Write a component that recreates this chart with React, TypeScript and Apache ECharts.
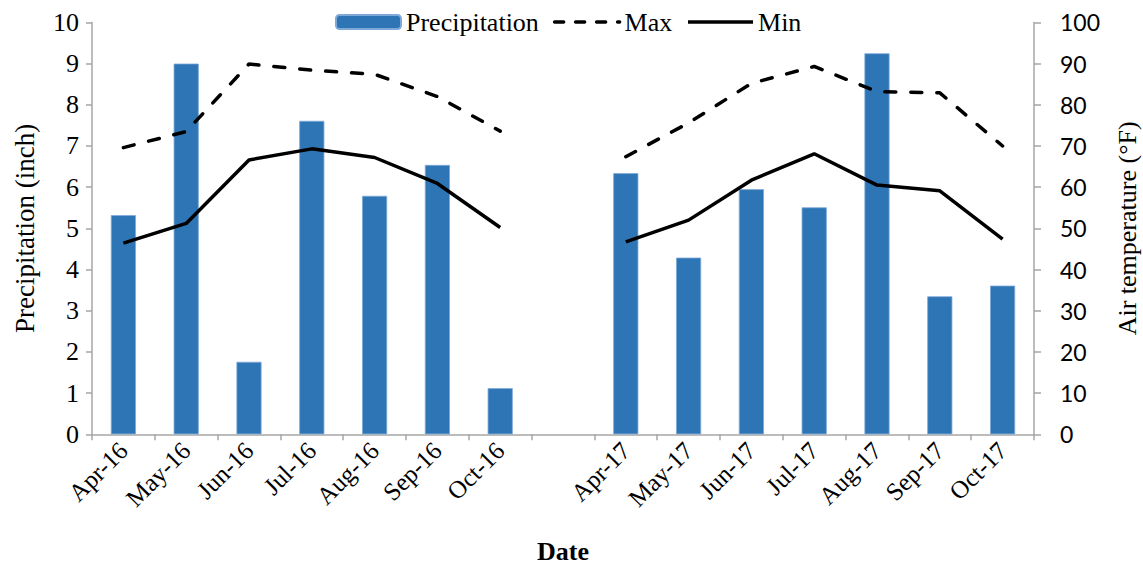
import React, { useEffect, useRef } from "react";
import * as echarts from "echarts";

// Monthly categories; the blank entry separates the two seasons
const categories = [
  "Apr-16", "May-16", "Jun-16", "Jul-16", "Aug-16", "Sep-16", "Oct-16",
  "",
  "Apr-17", "May-17", "Jun-17", "Jul-17", "Aug-17", "Sep-17", "Oct-17",
];

// Precipitation in inches
const precipitation = [
  5.32, 9.0, 1.76, 7.61, 5.79, 6.54, 1.12,
  "-",
  6.34, 4.29, 5.95, 5.51, 9.25, 3.35, 3.61,
];

// Max air temperature (°F)
const maxTemp = [
  69.6, 73.5, 89.9, 88.4, 87.4, 82.0, 73.6,
  "-",
  67.4, 75.6, 85.2, 89.3, 83.2, 82.9, 70.0,
];

// Min air temperature (°F)
const minTemp = [
  46.4, 51.2, 66.6, 69.3, 67.2, 60.9, 50.2,
  "-",
  46.7, 52.0, 61.7, 68.1, 60.5, 59.1, 47.4,
];

const SERIF = "'Liberation Serif', 'Times New Roman', serif";
const SANS = "Lato, 'Open Sans', sans-serif";
const AXIS_GRAY = "#a6a6a6";
const LINE_W = 3.5;

export default function App() {
  const ref = useRef<HTMLDivElement>(null);

  useEffect(() => {
    document.body.style.margin = "0";
    if (!ref.current) return;
    const chart = echarts.init(ref.current, null, { renderer: "svg" });
    chart.setOption({
      animation: false,
      backgroundColor: "#ffffff",
      textStyle: { fontFamily: SERIF, color: "#000" },
      legend: {
        top: 4,
        left: 330,
        itemWidth: 65,
        itemHeight: 14,
        itemGap: 14,
        textStyle: { fontFamily: SERIF, fontSize: 26, color: "#000" },
        data: [
          { name: "Precipitation" },
          {
            name: "Max",
            itemStyle: { opacity: 0 },
            lineStyle: { type: [9, 12], cap: "round", width: LINE_W, color: "#000" },
          },
          {
            name: "Min",
            itemStyle: { opacity: 0 },
            lineStyle: { width: LINE_W, color: "#000" },
          },
        ],
      },
      grid: {
        left: 92,
        right: 109,
        top: 22.4,
        bottom: 135.7,
        containLabel: false,
        outerBoundsMode: "none",
      },
      xAxis: {
        type: "category",
        data: categories,
        boundaryGap: true,
        name: "Date",
        nameLocation: "middle",
        nameGap: 104,
        nameTextStyle: { fontFamily: SERIF, fontSize: 26, fontWeight: "bold", color: "#000" },
        axisLine: { lineStyle: { color: AXIS_GRAY, width: 1.5 } },
        axisTick: { show: true, length: 6, lineStyle: { color: AXIS_GRAY, width: 1.5 } },
        axisLabel: {
          interval: 0,
          rotate: 45,
          margin: 12,
          fontFamily: SERIF,
          fontSize: 25,
          color: "#000",
        },
      },
      yAxis: [
        {
          type: "value",
          min: 0,
          max: 10,
          interval: 1,
          name: "Precipitation (inch)",
          nameLocation: "middle",
          nameRotate: 90,
          nameGap: 54,
          nameTextStyle: { fontFamily: SERIF, fontSize: 27, color: "#000" },
          axisLine: { show: true, lineStyle: { color: AXIS_GRAY, width: 1.5 } },
          axisTick: { show: true, length: 6, lineStyle: { color: AXIS_GRAY, width: 1.5 } },
          splitLine: { show: false },
          axisLabel: { fontFamily: SERIF, fontSize: 26, color: "#000", margin: 13 },
        },
        {
          type: "value",
          min: 0,
          max: 100,
          interval: 10,
          position: "right",
          name: "Air temperature (°F)",
          nameLocation: "middle",
          nameRotate: 90,
          nameGap: 80,
          nameTextStyle: { fontFamily: SERIF, fontSize: 26, color: "#000" },
          axisLine: { show: true, lineStyle: { color: AXIS_GRAY, width: 1.5 } },
          axisTick: { show: true, length: 7, lineStyle: { color: AXIS_GRAY, width: 1.5 } },
          splitLine: { show: false },
          axisLabel: { fontFamily: SANS, fontSize: 23, color: "#000", margin: 26 },
        },
      ],
      series: [
        {
          name: "Precipitation",
          type: "bar",
          yAxisIndex: 0,
          data: precipitation,
          barWidth: "40%",
          itemStyle: { color: "#2e75b6", borderColor: "#7fa9d8", borderWidth: 0.8 },
        },
        {
          name: "Max",
          type: "line",
          yAxisIndex: 1,
          data: maxTemp,
          symbol: "none",
          itemStyle: { color: "#000" },
          lineStyle: { color: "#000", width: LINE_W, type: [11, 15], cap: "round" },
        },
        {
          name: "Min",
          type: "line",
          yAxisIndex: 1,
          data: minTemp,
          symbol: "none",
          itemStyle: { color: "#000" },
          lineStyle: { color: "#000", width: LINE_W },
        },
      ],
    });
    return () => chart.dispose();
  }, []);

  return <div ref={ref} style={{ width: 1143, height: 570 }} />;
}
